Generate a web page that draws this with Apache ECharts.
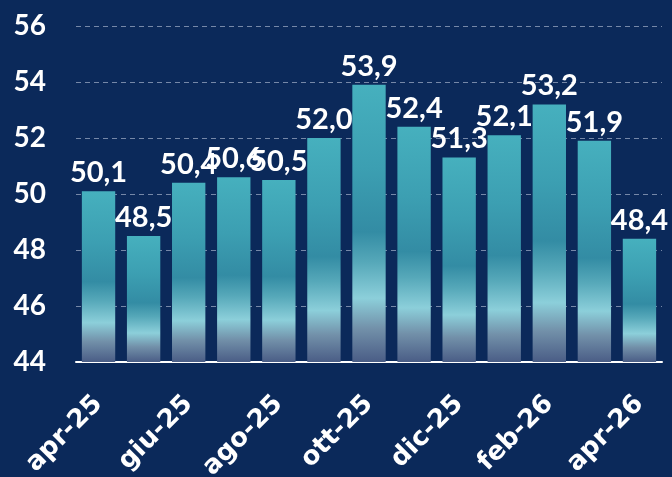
<!DOCTYPE html>
<html><head><meta charset="utf-8">
<script src="https://cdn.jsdelivr.net/npm/echarts@6/dist/echarts.min.js"></script>
<style>html,body{margin:0;padding:0;background:#0b295a;}#c{width:672px;height:477px;}</style>
</head><body><div id="c"></div>
<script>
const categories = ['apr-25','mag-25','giu-25','lug-25','ago-25','set-25','ott-25','nov-25','dic-25','gen-26','feb-26','mar-26','apr-26'];
const values = [50.1, 48.5, 50.4, 50.6, 50.5, 52.0, 53.9, 52.4, 51.3, 52.1, 53.2, 51.9, 48.4];
const yTicks = [44, 46, 48, 50, 52, 54, 56];

const chart = echarts.init(document.getElementById('c'));
const grad = new echarts.graphic.LinearGradient(0, 0, 0, 1, [
  {offset: 0, color: '#46b0be'},
  {offset: 0.3, color: '#3c9fb2'},
  {offset: 0.53, color: '#338ca4'},
  {offset: 0.64, color: '#56a8b9'},
  {offset: 0.77, color: '#8ccfda'},
  {offset: 0.88, color: '#7290a9'},
  {offset: 1, color: '#4a5d86'}
]);
chart.setOption({
  backgroundColor: '#0b295a',
  animation: false,
  grid: {left: 76, right: 10, top: 26, bottom: 115, containLabel: false, outerBoundsMode: 'none'},
  xAxis: {
    type: 'category', data: categories,
    axisLine: {lineStyle: {color: '#ffffff', width: 2}},
    axisTick: {show: false},
    axisLabel: {interval: 1, rotate: 45, color: '#ffffff', fontFamily: 'DejaVu Sans', fontWeight: 'bold', fontSize: 26, margin: 38}
  },
  yAxis: {
    type: 'value', min: yTicks[0], max: yTicks[yTicks.length-1], interval: 2,
    axisLine: {show: false}, axisTick: {show: false},
    axisLabel: {color: '#ffffff', fontFamily: 'Lato', fontWeight: 'bold', fontSize: 28, margin: 30, formatter: v => String(v)},
    splitLine: {lineStyle: {color: 'rgba(190,200,220,0.6)', type: [5, 4], width: 1}}
  },
  series: [{
    type: 'bar', data: values, barCategoryGap: '26%',
    itemStyle: {color: grad},
    label: {show: true, position: 'top', distance: 4, color: '#ffffff', fontFamily: 'Lato', fontWeight: 'bold', fontSize: 29,
      formatter: p => p.value.toFixed(1).replace('.', ',')}
  }]
});
</script></body></html>
